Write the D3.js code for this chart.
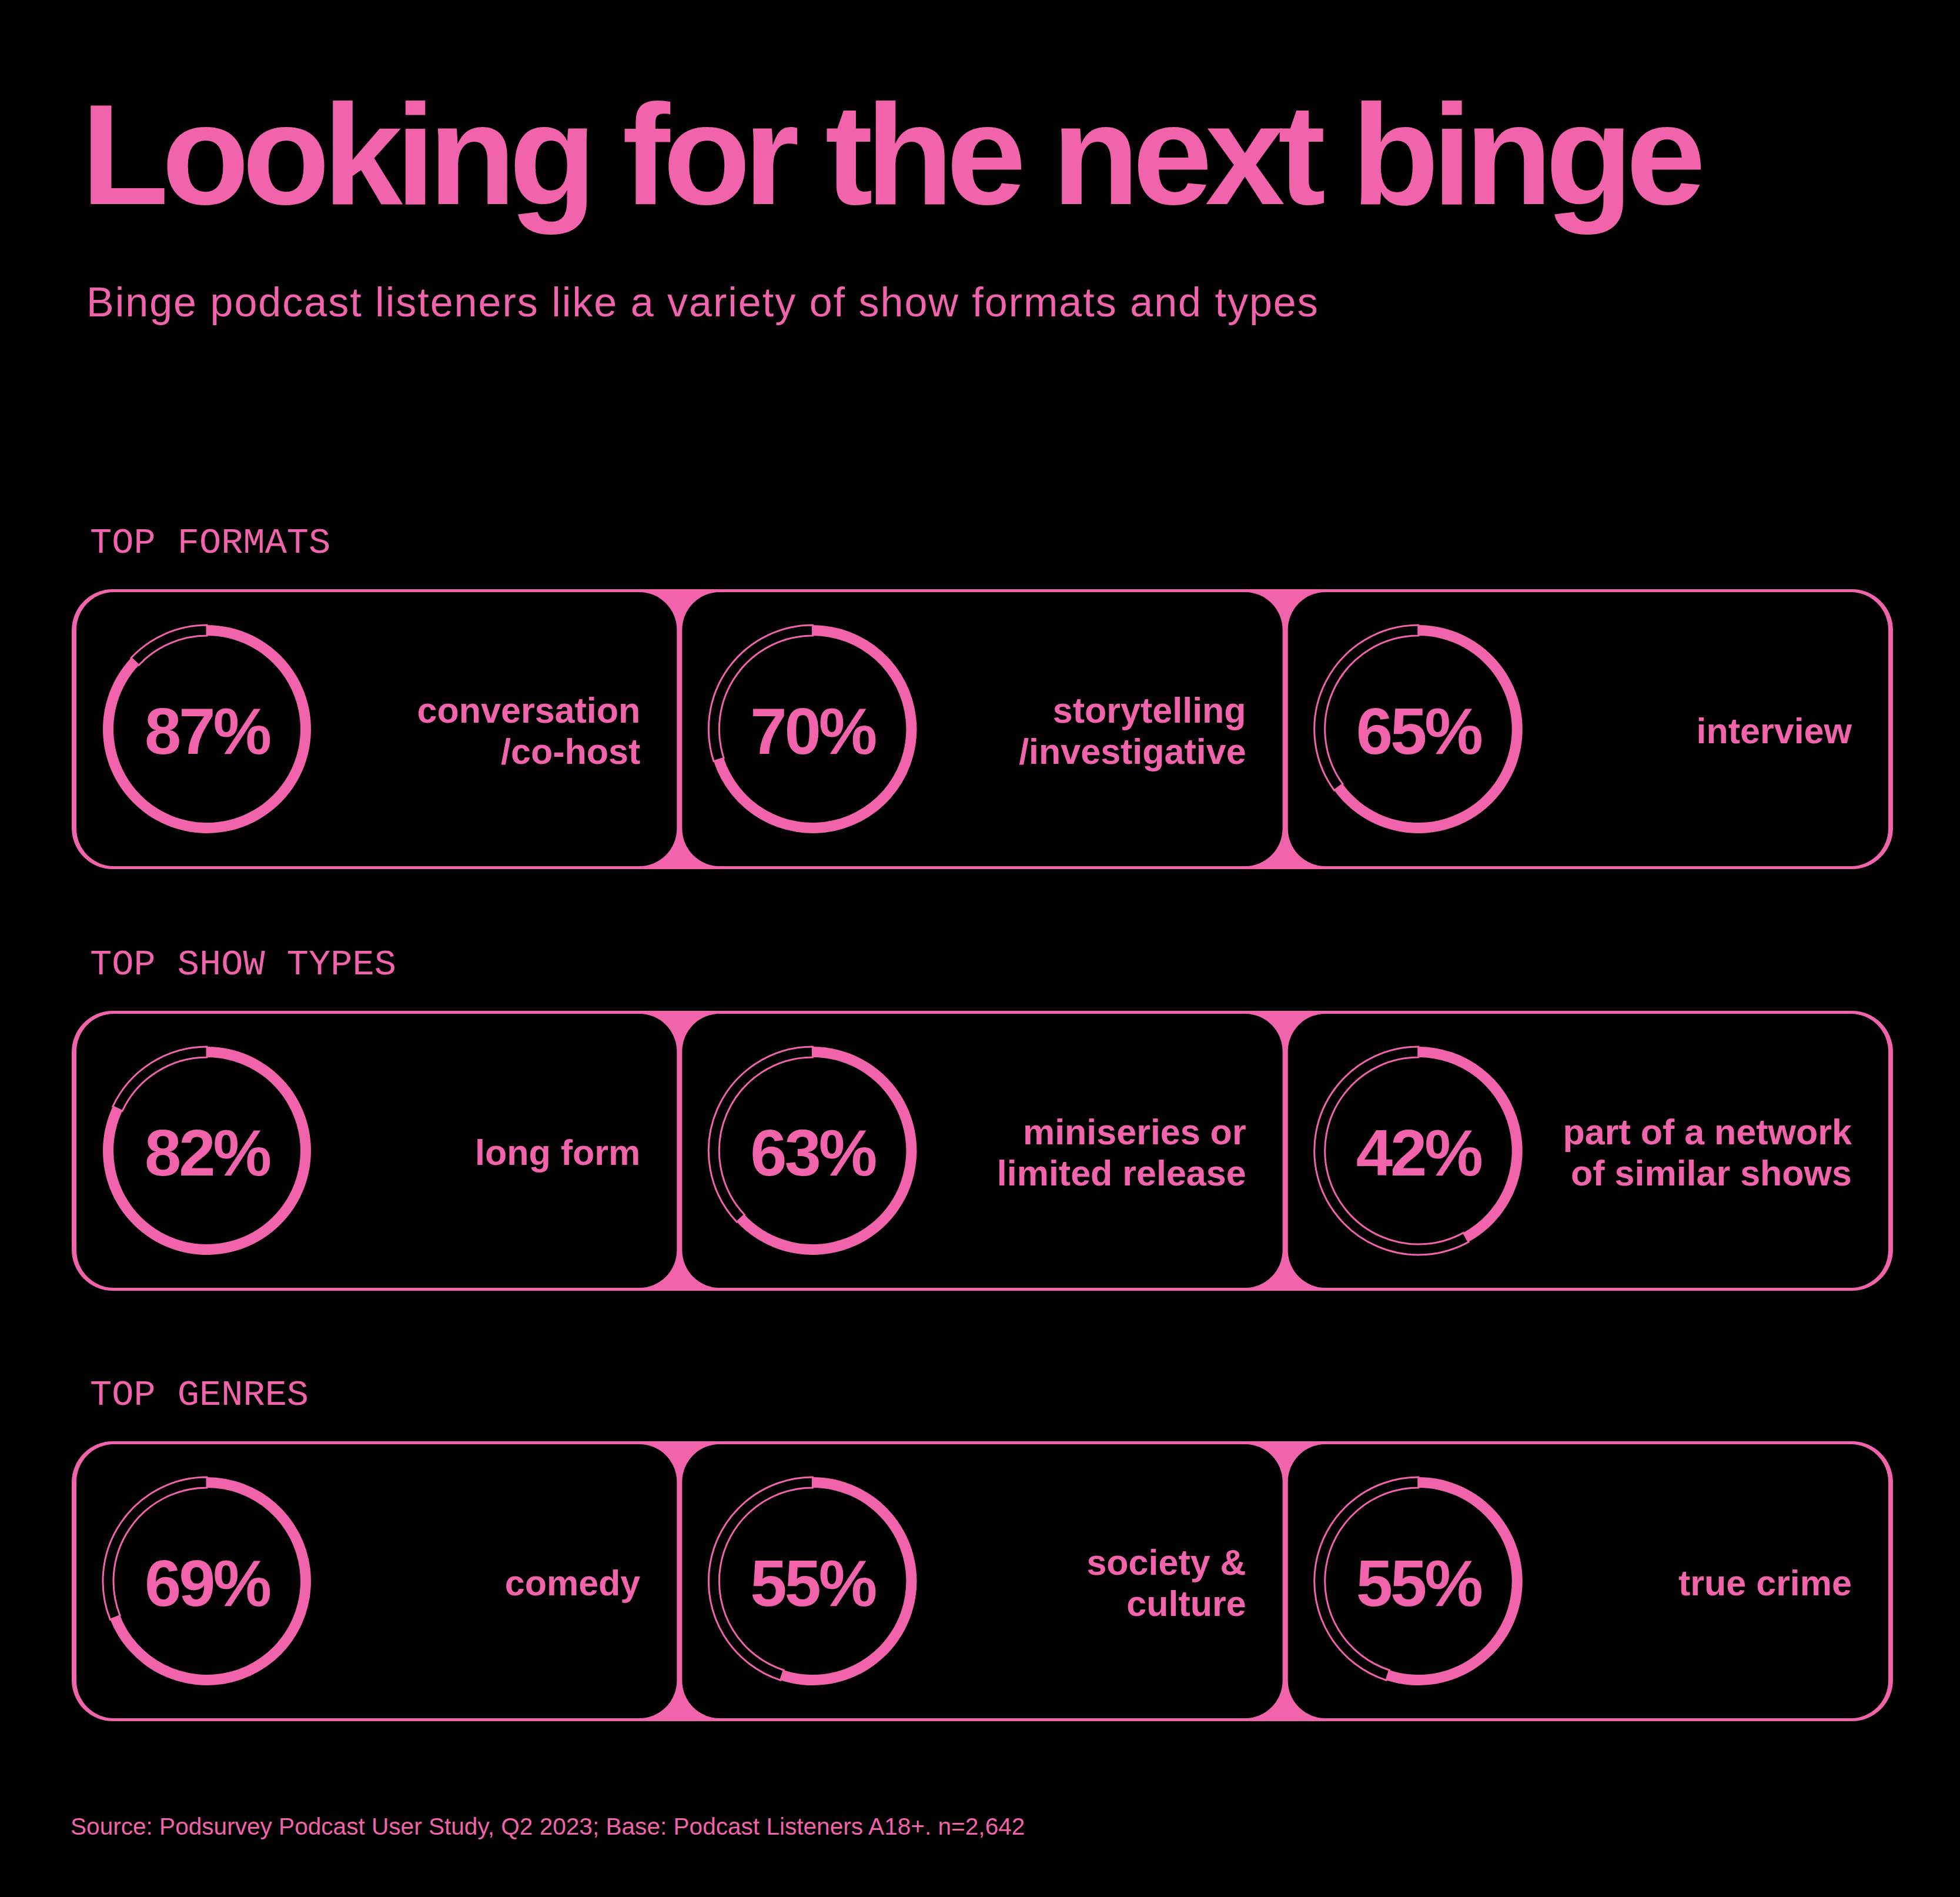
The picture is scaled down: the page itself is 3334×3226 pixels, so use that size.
<!DOCTYPE html>
<html>
<head>
<meta charset="utf-8">
<script src="https://cdn.jsdelivr.net/npm/d3@7"></script>
<style>
  html, body { margin: 0; padding: 0; background: #000; }
  svg { display: block; }
</style>
</head>
<body>
<script>
// ---------- data ----------
const title = "Looking for the next binge";
const subtitle = "Binge podcast listeners like a variety of show formats and types";
const source = "Source: Podsurvey Podcast User Study, Q2 2023; Base: Podcast Listeners A18+. n=2,642";

const sections = ["TOP FORMATS", "TOP SHOW TYPES", "TOP GENRES"];

const formatLabels = [["conversation", "/co-host"], ["storytelling", "/investigative"], ["interview"]];
const formatValues = [87, 70, 65];

const showTypeLabels = [["long form"], ["miniseries or", "limited release"], ["part of a network", "of similar shows"]];
const showTypeValues = [82, 63, 42];

const genreLabels = [["comedy"], ["society &", "culture"], ["true crime"]];
const genreValues = [69, 55, 55];

const rowsData = [
  { section: sections[0], labels: formatLabels, values: formatValues },
  { section: sections[1], labels: showTypeLabels, values: showTypeValues },
  { section: sections[2], labels: genreLabels, values: genreValues }
];

// ---------- layout ----------
const W = 3334, H = 3226;
const PINK = "#f163ab";
const rowTops = [1002, 1719, 2451];
const rowH = 476;
const frameX0 = 122, frameX1 = 3220;

const svg = d3.select("body").append("svg")
  .attr("width", W).attr("height", H)
  .style("background", "#000");

svg.append("rect").attr("width", W).attr("height", H).attr("fill", "#000");

// Title & subtitle
svg.append("text")
  .attr("x", 138).attr("y", 347)
  .attr("fill", PINK)
  .attr("font-family", "'Liberation Sans', Arial, sans-serif")
  .attr("font-weight", 700)
  .attr("font-size", 244)
  .attr("letter-spacing", -12)
  .text(title);

svg.append("text")
  .attr("x", 147).attr("y", 538)
  .attr("fill", PINK)
  .attr("font-family", "'Liberation Sans', Arial, sans-serif")
  .attr("font-size", 70)
  .attr("letter-spacing", 2)
  .text(subtitle);

// Scales
const xCard = d3.scaleBand()
  .domain([0, 1, 2])
  .range([frameX0 + 8, frameX1 - 8])
  .paddingInner(9 / 1021);

const angle = d3.scaleLinear().domain([0, 100]).range([0, 2 * Math.PI]);

const rOuter = 177, rInner = 159;
const arcFill = d3.arc().innerRadius(rInner).outerRadius(rOuter);

rowsData.forEach((row, ri) => {
  const top = rowTops[ri];
  const g = svg.append("g");

  // section label
  g.append("text")
    .attr("x", 153).attr("y", top - 62)
    .attr("fill", PINK)
    .attr("font-family", "'Liberation Mono', 'DejaVu Sans Mono', monospace")
    .attr("font-size", 62)
    .text(row.section);

  // outer pink frame
  g.append("rect")
    .attr("x", frameX0).attr("y", top)
    .attr("width", frameX1 - frameX0).attr("height", rowH)
    .attr("rx", 70).attr("ry", 70)
    .attr("fill", PINK);

  const cards = g.selectAll("g.card")
    .data(row.values.map((v, i) => ({ v, i, label: row.labels[i] })))
    .join("g").attr("class", "card")
    .attr("transform", d => `translate(${xCard(d.i)},${top + 5})`);

  const cw = xCard.bandwidth(), ch = rowH - 10;

  cards.append("rect")
    .attr("width", cw).attr("height", ch)
    .attr("rx", 64).attr("ry", 64)
    .attr("fill", "#000");

  const cy = ch / 2;
  const ring = cards.append("g").attr("transform", `translate(222,${cy})`);

  // filled portion
  ring.append("path")
    .attr("d", d => arcFill({ startAngle: 0, endAngle: angle(d.v) }))
    .attr("fill", PINK);

  // remainder outline
  ring.append("path")
    .attr("d", d => arcFill({ startAngle: angle(d.v), endAngle: angle(100) }))
    .attr("fill", "none")
    .attr("stroke", PINK)
    .attr("stroke-width", 3);

  ring.append("text")
    .attr("x", 0).attr("y", 42)
    .attr("text-anchor", "middle")
    .attr("fill", PINK)
    .attr("font-family", "'Liberation Sans', Arial, sans-serif")
    .attr("font-weight", 700)
    .attr("font-size", 112)
    .attr("letter-spacing", -4)
    .text(d => d.v + "%");

  // labels
  cards.each(function (d) {
    const n = d.label.length;
    const t = d3.select(this).append("text")
      .attr("text-anchor", "end")
      .attr("fill", PINK)
      .attr("font-family", "'Liberation Sans', Arial, sans-serif")
      .attr("font-weight", 700)
      .attr("font-size", 61);
    d.label.forEach((line, li) => {
      t.append("tspan")
        .attr("x", cw - 62)
        .attr("y", cy + 24 + (li - (n - 1) / 2) * 70)
        .text(line);
    });
  });
});

// footer
svg.append("text")
  .attr("x", 120).attr("y", 3120)
  .attr("fill", PINK)
  .attr("font-family", "'Liberation Sans', Arial, sans-serif")
  .attr("font-size", 40.6)
  .text(source);
</script>
</body>
</html>
